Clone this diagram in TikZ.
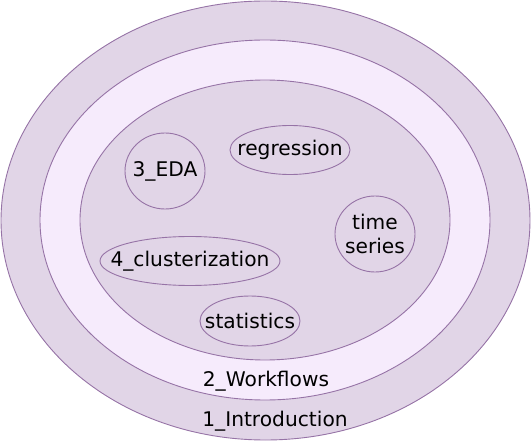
\documentclass[tikz,border=0pt]{standalone}
\usepackage{fontspec}
\setmainfont{DejaVu Sans}
\usetikzlibrary{shapes.geometric}
\definecolor{pfill}{HTML}{E1D5E7}
\definecolor{pstroke}{HTML}{9673A6}
\definecolor{plight}{HTML}{F6EBFC}
\tikzset{
  blob/.style={ellipse, draw=pstroke, line width=0.9pt, inner sep=0pt, outer sep=0pt},
  lbl/.style={font=\fontsize{20.2}{24}\selectfont, text=black, inner sep=0pt, align=center}
}
\begin{document}
\begin{tikzpicture}[x=1pt,y=-1pt]
\useasboundingbox (0,0) rectangle (531,441);
\node[blob, fill=pfill, minimum width=529pt, minimum height=439pt] (intro) at (265.5,220.5) {};
\node[blob, fill=plight, minimum width=450pt, minimum height=360pt] (work) at (265,220) {};
\node[blob, fill=pfill, minimum width=370pt, minimum height=280pt] (core) at (265,220) {};
\node[blob, fill=pfill, minimum width=80pt, minimum height=76pt] (eda) at (165,171) {};
\node[blob, fill=pfill, minimum width=120pt, minimum height=49pt] (reg) at (290,150) {};
\node[blob, fill=pfill, minimum width=80pt, minimum height=76pt] (ts) at (375,234) {};
\node[blob, fill=pfill, minimum width=180pt, minimum height=49pt] (clu) at (190,261) {};
\node[blob, fill=pfill, minimum width=100pt, minimum height=50pt] (stat) at (250,321) {};
\node[lbl] (edat) at (eda) {3\_EDA};
\node[lbl] (regt) at (reg) {regression};
\node[lbl] (tst) at (ts) {time\\series};
\node[lbl] (clut) at (clu) {4\_clusterization};
\node[lbl] (statt) at (stat) {statistics};
\node[lbl] (wlbl) at (266,381) {2\_Workflows};
\node[lbl] (ilbl) at (275,421) {1\_Introduction};
\end{tikzpicture}
\end{document}
